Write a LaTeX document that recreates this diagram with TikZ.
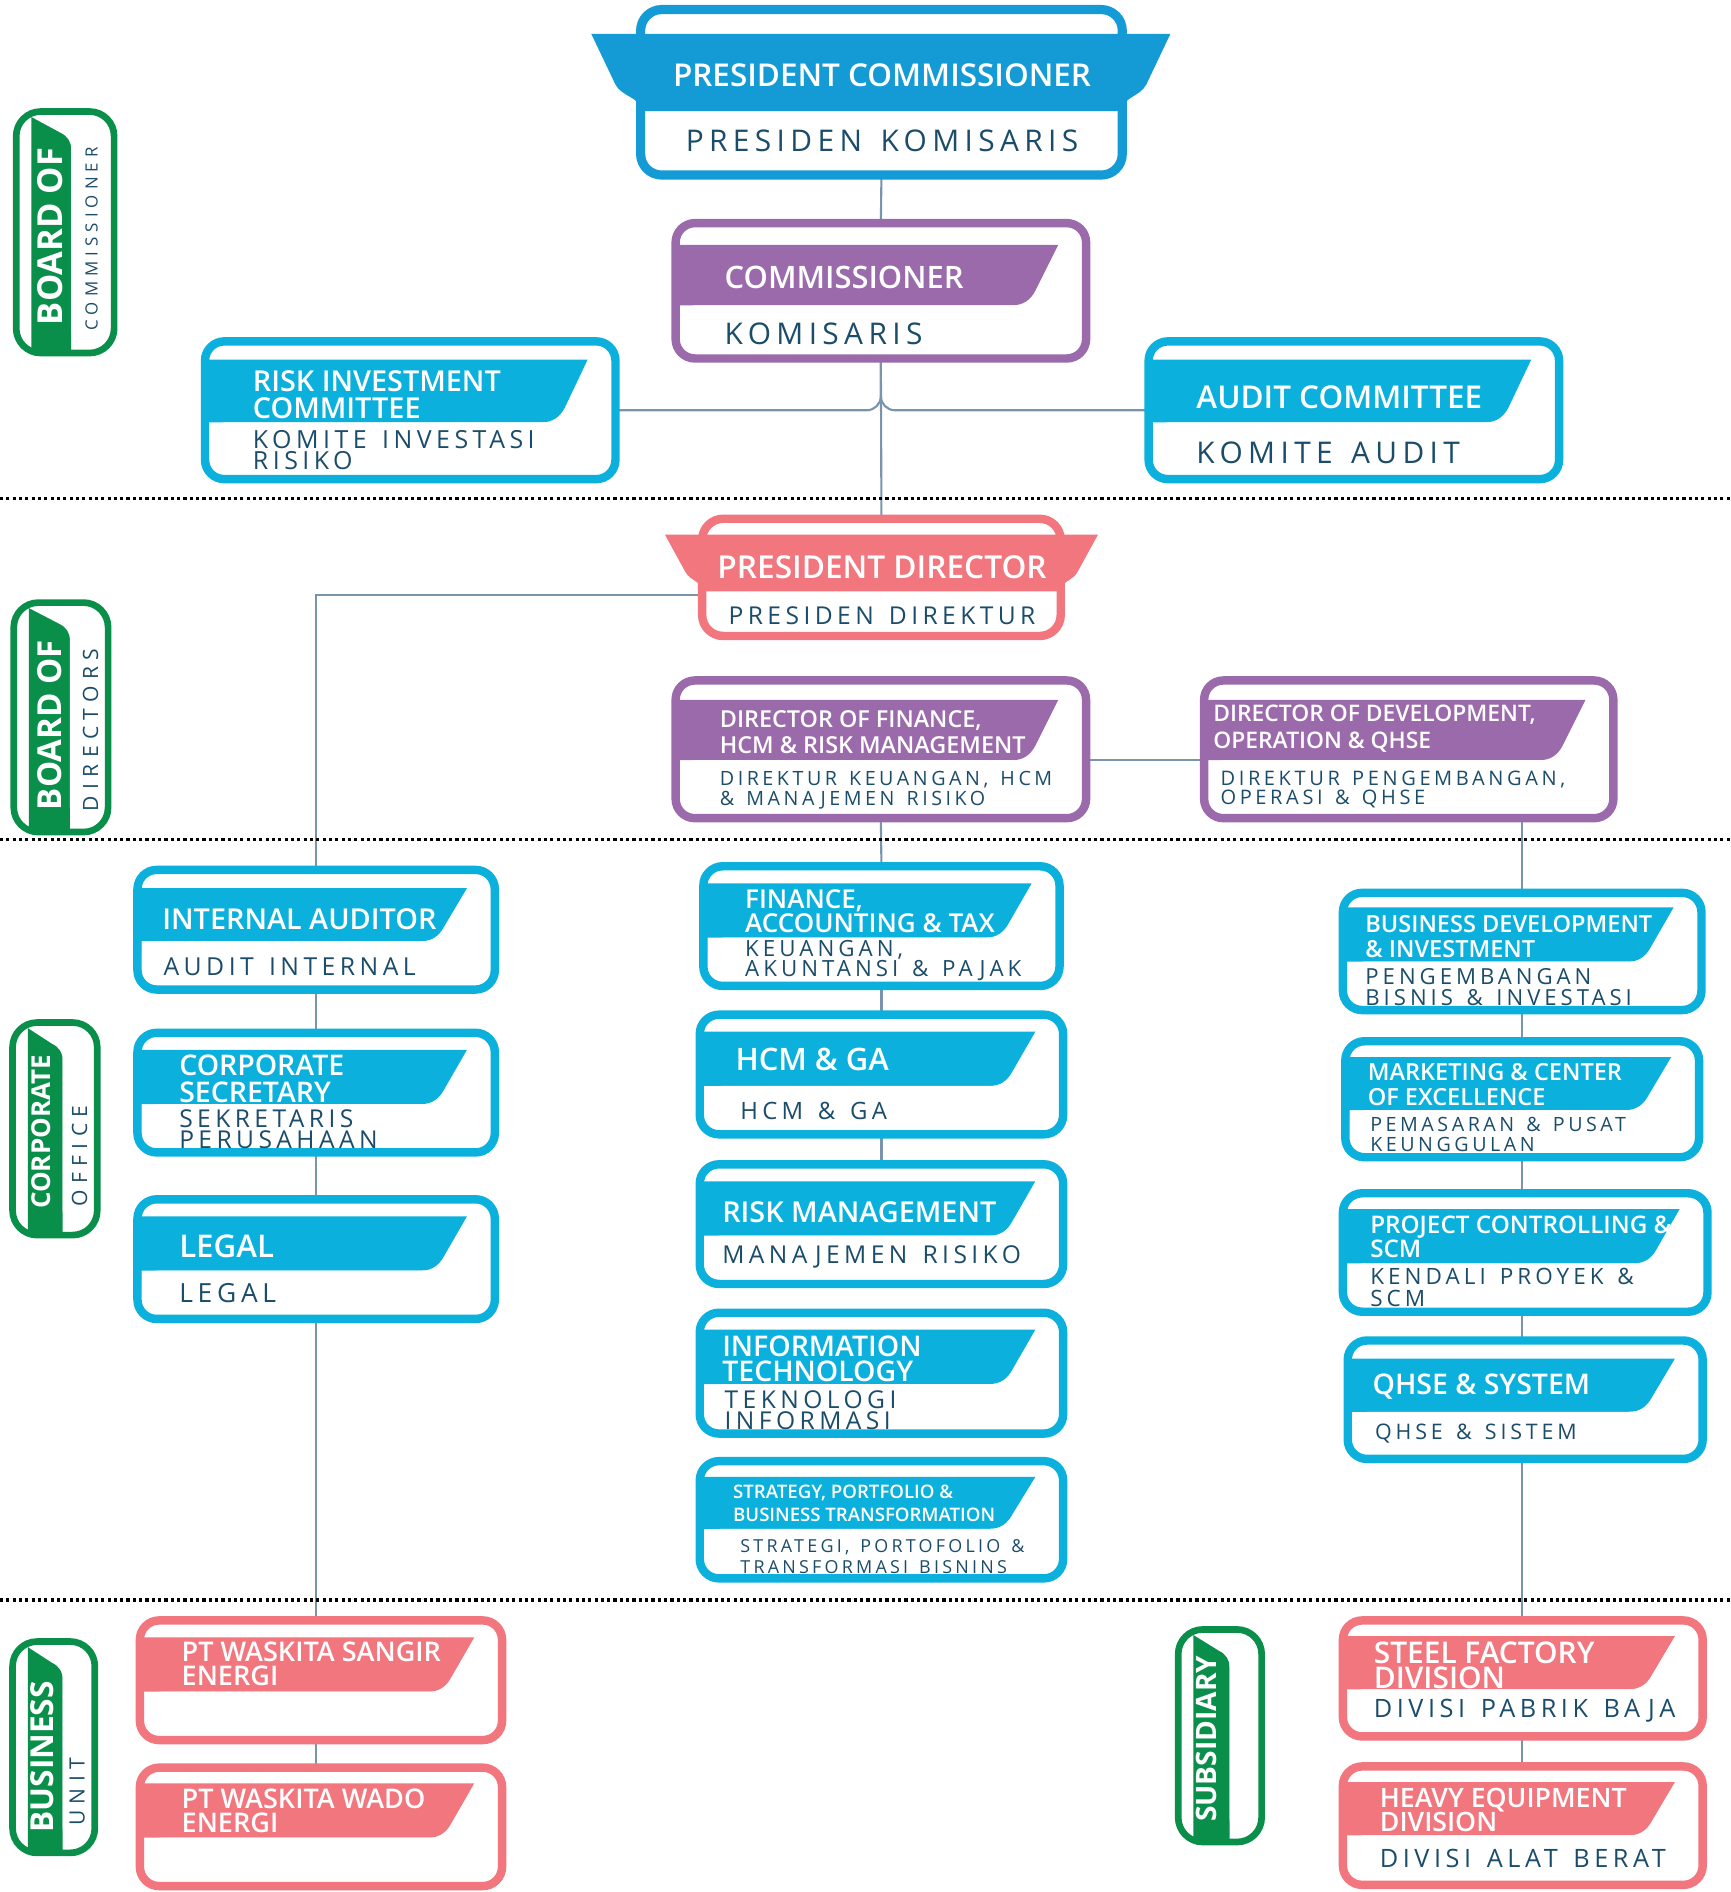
\documentclass[tikz,border=0pt]{standalone}
\usepackage{fontspec}
\setmainfont{Open Sans}[BoldFont={Open Sans Semibold}]
\newfontfamily\spaced{Open Sans}[LetterSpace=18, WordSpace=1.4]
\newfontfamily\widespaced{Open Sans}[LetterSpace=30]
\newfontfamily\heavy{Open Sans Bold}
\usetikzlibrary{fit,backgrounds}

\definecolor{wkcyan}{HTML}{0BB1DC}
\definecolor{wkblue}{HTML}{149BD5}
\definecolor{wkpurple}{HTML}{9B6AAB}
\definecolor{wksalmon}{HTML}{F2767E}
\definecolor{wkgreen}{HTML}{0A8F4A}
\definecolor{wktext}{HTML}{1B4D6B}
\definecolor{wkline}{HTML}{7A94AE}

\tikzset{
  ttl/.style 2 args={anchor=west, inner sep=0pt, align=left, text=white, font=\bfseries\fontsize{#1}{#2}\selectfont},
  sub/.style 2 args={anchor=west, inner sep=0pt, align=left, text=wktext, font=\spaced\fontsize{#1}{#2}\selectfont},
  sidettl/.style={rotate=90, inner sep=0pt, text=white, font=\heavy\fontsize{#1}{#1}\selectfont},
  sidesub/.style={rotate=90, inner sep=0pt, text=wktext, font=\widespaced\fontsize{#1}{#1}\selectfont},
  link/.style={draw=wkline, line width=0.6pt},
  divider/.style={draw=black, line width=0.9pt, dash pattern=on 0.9pt off 0.9pt}
}

\newcommand{\orgbox}[8]{%
  \node[fit={(#3+3.5,#4+3.5) (#5-3.5,#6-3.5)}, inner sep=0pt] (#1) {};
  \fill[white, rounded corners=5.5pt] (#1.north west) rectangle (#1.south east);
  \fill[#2] (#3+6,#7) -- (#5-26,#7) -- (#5-45,#8-12) to[out=-118,in=0] (#5-64,#8) -- (#3+6,#8) -- (#3+6,#8+20) -- cycle;
  \fill[white, rounded corners=5pt] (#3+6,#8) rectangle (#5-6,#6-6);
  \draw[#2, line width=2.4pt, rounded corners=5.5pt] (#1.north west) rectangle (#1.south east);
}

\newcommand{\sidebox}[6]{%
  \node[fit={(#2+3,#3+3) (#4-3,#5-3)}, inner sep=0pt] (#1) {};
  \fill[white, rounded corners=7pt] (#1.north west) rectangle (#1.south east);
  \fill[wkgreen] (#2+15,#3+7) -- (#2+#6-9,#3+20) to[out=-25,in=90] (#2+#6,#3+34) -- (#2+#6,#5-5) -- (#2+15,#5-5) -- cycle;
  \fill[white, rounded corners=6pt] (#2+#6,#3+5) rectangle (#4-5,#5-5);
  \draw[wkgreen, line width=1.9pt, rounded corners=7pt] (#1.north west) rectangle (#1.south east);
}

\begin{document}
\begin{tikzpicture}[x=0.012064cm, y=-0.012064cm]
\useasboundingbox (0,0) rectangle (1434,1568);

\draw[divider] (0,413) -- (1434,413);
\draw[divider] (0,696) -- (1434,696);
\draw[divider] (0,1326) -- (1434,1326);

% president commissioner
\node[fit={(531.5,8.5) (929.5,144.5)}, inner sep=0pt] (pc) {};
\fill[white, rounded corners=6pt] (pc.north west) rectangle (pc.south east);
\fill[wkblue] (490,28) -- (970,28) -- (950,70) to[out=-117,in=90] (930,92) -- (531,92) to[out=90,in=-63] (510,70) -- cycle;
\draw[wkblue, line width=2.6pt, rounded corners=6pt] (pc.north west) rectangle (pc.south east);
\node[ttl={8.95}{8.95}, anchor=center] (pc-t) at (731,62) {PRESIDENT COMMISSIONER};
\node[sub={8.5}{8.5}, anchor=center] (pc-s) at (731,117) {PRESIDEN KOMISARIS};

\orgbox{com}{wkpurple}{557}{182}{903}{300}{203}{253}
\node[ttl={8.8}{8.8}] (com-t) at (600,230) {COMMISSIONER};
\node[sub={8.5}{8.5}] (com-s) at (600,277) {KOMISARIS};

\orgbox{ric}{wkcyan}{167}{280}{513}{400}{298}{350}
\node[ttl={8.2}{7.5}] (ric-t) at (209,327) {RISK INVESTMENT\\COMMITTEE};
\node[sub={7.1}{6}] (ric-s) at (209,373) {KOMITE INVESTASI\\RISIKO};

\orgbox{ac}{wkcyan}{949}{280}{1295}{400}{298}{350}
\node[ttl={8.95}{8.95}] (ac-t) at (991,329) {AUDIT COMMITTEE};
\node[sub={8.5}{8.5}] (ac-s) at (991,375) {KOMITE AUDIT};

% president director
\node[fit={(582.5,430.5) (878.5,526.5)}, inner sep=0pt] (pd) {};
\fill[white, rounded corners=6pt] (pd.north west) rectangle (pd.south east);
\fill[wksalmon] (551,443) -- (910,443) -- (893,474) to[out=-117,in=90] (879,490) -- (582,490) to[out=90,in=-63] (568,474) -- cycle;
\draw[wksalmon, line width=2.4pt, rounded corners=6pt] (pd.north west) rectangle (pd.south east);
\node[ttl={9}{9}, anchor=center] (pd-t) at (731,470) {PRESIDENT DIRECTOR};
\node[sub={7}{7}, anchor=center] (pd-s) at (731,510) {PRESIDEN DIREKTUR};

\orgbox{dfin}{wkpurple}{557}{561}{903}{681}{580}{630}
\node[ttl={6.65}{7.5}] (dfin-t) at (596,607) {DIRECTOR OF FINANCE,\\HCM \& RISK MANAGEMENT};
\node[sub={5.6}{5.5}] (dfin-s) at (596,655) {DIREKTUR KEUANGAN, HCM\\\& MANAJEMEN RISIKO};

\orgbox{ddev}{wkpurple}{995}{561}{1340}{681}{580}{630}
\node[ttl={6.5}{7.5}] (ddev-t) at (1005,604) {DIRECTOR OF DEVELOPMENT,\\OPERATION \& QHSE};
\node[sub={5.7}{5.5}] (ddev-s) at (1011,654) {DIREKTUR PENGEMBANGAN,\\OPERASI \& QHSE};

% corporate office, left
\orgbox{ia}{wkcyan}{111}{718}{413}{823}{736}{780}
\node[ttl={8.2}{8.2}] (ia-t) at (134,762) {INTERNAL AUDITOR};
\node[sub={7.05}{7.05}] (ia-s) at (135,801) {AUDIT INTERNAL};

\orgbox{cs}{wkcyan}{111}{853}{413}{958}{870}{915}
\node[ttl={8.1}{7.5}] (cs-t) at (148,894) {CORPORATE\\SECRETARY};
\node[sub={7}{6}] (cs-s) at (148,936) {SEKRETARIS\\PERUSAHAAN};

\orgbox{legal}{wkcyan}{111}{991}{413}{1096}{1008}{1053}
\node[ttl={8.9}{8.9}] (legal-t) at (148,1033) {LEGAL};
\node[sub={7.5}{7.5}] (legal-s) at (148,1072) {LEGAL};

% centre
\orgbox{fat}{wkcyan}{580}{715}{881}{820}{732}{777}
\node[ttl={7.4}{6.9}] (fat-t) at (617,755) {FINANCE,\\ACCOUNTING \& TAX};
\node[sub={6.35}{5.8}] (fat-s) at (617,796) {KEUANGAN,\\AKUNTANSI \& PAJAK};

\orgbox{hcm}{wkcyan}{577}{838}{884}{943}{855}{900}
\node[ttl={8.8}{8.8}] (hcm-t) at (609,878) {HCM \& GA};
\node[sub={6.8}{6.8}] (hcm-s) at (613,921) {HCM \& GA};

\orgbox{rm}{wkcyan}{577}{962}{884}{1067}{979}{1024}
\node[ttl={8.2}{8.2}] (rm-t) at (598,1005) {RISK MANAGEMENT};
\node[sub={7}{7}] (rm-s) at (598,1042) {MANAJEMEN RISIKO};

\orgbox{it}{wkcyan}{577}{1085}{884}{1191}{1102}{1147}
\node[ttl={8.1}{7}] (it-t) at (598,1126) {INFORMATION\\TECHNOLOGY};
\node[sub={7}{6}] (it-s) at (600,1169) {TEKNOLOGI\\INFORMASI};

\orgbox{spbt}{wkcyan}{577}{1208}{884}{1311}{1224}{1267}
\node[ttl={5.3}{6.5}] (spbt-t) at (607,1246) {STRATEGY, PORTFOLIO \&\\BUSINESS TRANSFORMATION};
\node[sub={5.1}{6}] (spbt-s) at (613,1290) {STRATEGI, PORTOFOLIO \&\\TRANSFORMASI BISNINS};

% right
\orgbox{bd}{wkcyan}{1110}{737}{1413}{840}{752}{797}
\node[ttl={6.7}{7}] (bd-t) at (1131,776) {BUSINESS DEVELOPMENT\\\& INVESTMENT};
\node[sub={6.3}{5.8}] (bd-s) at (1131,818) {PENGEMBANGAN\\BISNIS \& INVESTASI};

\orgbox{mce}{wkcyan}{1112}{860}{1411}{962}{876}{920}
\node[ttl={6.7}{7}] (mce-t) at (1133,899) {MARKETING \& CENTER\\OF EXCELLENCE};
\node[sub={5.6}{5.8}] (mce-s) at (1135,940) {PEMASARAN \& PUSAT\\KEUNGGULAN};

\orgbox{pcs}{wkcyan}{1110}{986}{1418}{1090}{1002}{1047}
\node[ttl={6.9}{7}] (pcs-t) at (1135,1025) {PROJECT CONTROLLING \&\\SCM};
\node[sub={6.4}{6}] (pcs-s) at (1135,1067) {KENDALI PROYEK \&\\SCM};

\orgbox{qhse}{wkcyan}{1114}{1108}{1414}{1212}{1126}{1170}
\node[ttl={8.1}{8.1}] (qhse-t) at (1137,1149) {QHSE \& SYSTEM};
\node[sub={6.1}{6.1}] (qhse-s) at (1139,1188) {QHSE \& SISTEM};

% business unit and subsidiary
\orgbox{wse}{wksalmon}{113}{1340}{419}{1445}{1357}{1402}
\node[ttl={7.7}{6.8}] (wse-t) at (150,1379) {PT WASKITA SANGIR\\ENERGI};

\orgbox{wwe}{wksalmon}{113}{1462}{419}{1566}{1478}{1523}
\node[ttl={7.7}{6.8}] (wwe-t) at (150,1501) {PT WASKITA WADO\\ENERGI};

\orgbox{sfd}{wksalmon}{1110}{1340}{1414}{1442}{1356}{1400}
\node[ttl={8.5}{7}] (sfd-t) at (1138,1380) {STEEL FACTORY\\DIVISION};
\node[sub={7.2}{7.2}] (sfd-s) at (1138,1418) {DIVISI PABRIK BAJA};

\orgbox{hed}{wksalmon}{1110}{1461}{1414}{1565}{1477}{1521}
\node[ttl={7.6}{7}] (hed-t) at (1143,1500) {HEAVY EQUIPMENT\\DIVISION};
\node[sub={7.2}{7.2}] (hed-s) at (1143,1540) {DIVISI ALAT BERAT};

% side labels
\sidebox{boc}{11}{90}{97}{295}{48}
\node[sidettl=9.8] (boc-t) at (42,196) {BOARD OF};
\node[sidesub=4.8] (boc-s) at (76,198) {COMMISSIONER};

\sidebox{bod}{9}{497}{92}{692}{49}
\node[sidettl=9.4] (bod-t) at (41,601) {BOARD OF};
\node[sidesub=6] (bod-s) at (75,605) {DIRECTORS};

\sidebox{co}{8}{845}{83}{1026}{44}
\node[sidettl=7.4] (co-t) at (34,938) {CORPORATE};
\node[sidesub=6] (co-s) at (66,958) {OFFICE};

\sidebox{bu}{8}{1358}{81}{1538}{44}
\node[sidettl=9] (bu-t) at (35,1456) {BUSINESS};
\node[sidesub=6] (bu-s) at (64,1485) {UNIT};

\sidebox{sub}{974}{1348}{1048}{1529}{45}
\node[sidettl=8] (sub-t) at (1000,1441) {SUBSIDIARY};

\begin{pgfonlayer}{background}
\fill[white] (0,0) rectangle (1434,1568);
\draw[link] (pc.south) -- (com.north);
\draw[link] (com.south) -- (pd.north);
\draw[link, rounded corners=4pt] (ric.east) -- (ric.east -| com.south) -- (com.south);
\draw[link, rounded corners=4pt] (ac.west) -- (ac.west -| com.south) -- (com.south);
\coordinate (pdl) at ([yshift=-5pt]pd.west);
\draw[link] (pdl) -| (ia.north);
\draw[link] (ia.south) -- (cs.north);
\draw[link] (cs.south) -- (legal.north);
\draw[link] (legal.south) -- (legal.south |- wse.north);
\draw[link] (wse.south -| legal.south) -- (legal.south |- wwe.north);
\draw[link] ([yshift=-3pt]dfin.east) -- ([yshift=-3pt]ddev.west);
\draw[link] (dfin.south) -- (fat.north);
\draw[link] (fat.south) -- (hcm.north);
\draw[link] (hcm.south) -- (rm.north);
\draw[link] (ddev.south -| bd.north) -- (bd.north);
\draw[link] (bd.south) -- (bd.south |- mce.north);
\draw[link] (mce.south -| bd.south) -- (bd.south |- pcs.north);
\draw[link] (pcs.south -| bd.south) -- (bd.south |- qhse.north);
\draw[link] (qhse.south -| bd.south) -- (bd.south |- sfd.north);
\draw[link] (sfd.south -| bd.south) -- (bd.south |- hed.north);
\end{pgfonlayer}
\end{tikzpicture}
\end{document}
